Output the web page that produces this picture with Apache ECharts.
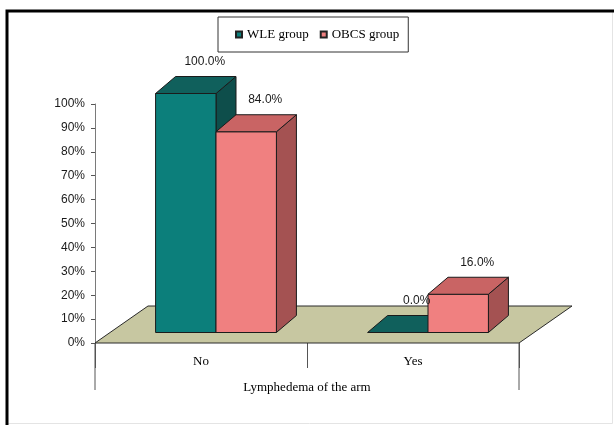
<!DOCTYPE html>
<html>
<head>
<meta charset="utf-8">
<script src="https://cdn.jsdelivr.net/npm/echarts@6/dist/echarts.min.js"></script>
<style>
  html, body { margin: 0; padding: 0; background: #ffffff; }
  #chart { width: 614px; height: 425px; }
</style>
</head>
<body>
<div id="chart"></div>
<script>
// Lymphedema of the arm, share of patients per group
const categories = ['No', 'Yes'];
const groupNames = ['WLE group', 'OBCS group'];
const wleValues = [100.0, 0.0];
const obcsValues = [84.0, 16.0];
const axisTitle = 'Lymphedema of the arm';

// pseudo-3D geometry (pixels)
const BAR_FRACTION = 0.285;          // bar width as share of a category band
const FRONT_SHIFT = [15, -10.5];     // bars stand a little back on the floor
const BAR_DEPTH = [20, -17];         // depth of each box
const FLOOR_DEPTH = [53, -37];       // depth of the floor plate
const DROP_LINE = 47;                // long boundary lines below the floor

const faces = [
  { front: '#0c7f7b', top: '#10605c', side: '#0e4e4b', legend: '#0c7f7b' },
  { front: '#f08080', top: '#c96464', side: '#a45252', legend: '#f08080' }
];
const EDGE = { stroke: '#1b1b1b', lineWidth: 1 };

function boxRenderer(slot) {
  const f = faces[slot];
  return function (params, api) {
    const cat = api.value(0);
    const v = api.value(1);
    const base = api.coord([cat, 0]);
    const topY = api.coord([cat, v])[1];
    const band = api.size([1, 0])[0];
    const w = band * BAR_FRACTION;
    const x0 = base[0] + FRONT_SHIFT[0] - (slot === 0 ? w : 0);
    const x1 = x0 + w;
    const yb = base[1] + FRONT_SHIFT[1];
    const yt = topY + FRONT_SHIFT[1];
    const dx = BAR_DEPTH[0], dy = BAR_DEPTH[1];
    const children = [];
    if (yb - yt > 0.5) {
      children.push({
        type: 'polygon',
        shape: { points: [[x1, yb], [x1 + dx, yb + dy], [x1 + dx, yt + dy], [x1, yt]] },
        style: Object.assign({ fill: f.side }, EDGE)
      });
      children.push({
        type: 'rect',
        shape: { x: x0, y: yt, width: w, height: yb - yt },
        style: Object.assign({ fill: f.front }, EDGE)
      });
    }
    children.push({
      type: 'polygon',
      shape: { points: [[x0, yt], [x1, yt], [x1 + dx, yt + dy], [x0 + dx, yt + dy]] },
      style: Object.assign({ fill: f.top }, EDGE)
    });
    children.push({
      type: 'text',
      z2: 100,
      style: {
        text: v.toFixed(1) + '%',
        x: (x0 + x1) / 2 + 19,
        y: yt + dy - 15,
        align: 'center',
        verticalAlign: 'middle',
        font: '12px "Liberation Sans", Arial, sans-serif',
        fill: '#1a1a1a'
      }
    });
    return { type: 'group', children: children };
  };
}

function floorRenderer(params, api) {
  const cs = params.coordSys;
  const yf = api.coord([0, 0])[1];
  const xl = cs.x, xr = cs.x + cs.width;
  return {
    type: 'group',
    children: [
      {
        type: 'polygon',
        shape: { points: [[xl, yf], [xr, yf], [xr + FLOOR_DEPTH[0], yf + FLOOR_DEPTH[1]], [xl + FLOOR_DEPTH[0], yf + FLOOR_DEPTH[1]]] },
        style: { fill: '#c7c7a1', stroke: '#2a2a2a', lineWidth: 1 }
      },
      { type: 'line', shape: { x1: xl, y1: yf, x2: xl, y2: yf + DROP_LINE }, style: { stroke: '#555555', lineWidth: 1 } },
      { type: 'line', shape: { x1: xr, y1: yf, x2: xr, y2: yf + DROP_LINE }, style: { stroke: '#555555', lineWidth: 1 } }
    ]
  };
}

const chart = echarts.init(document.getElementById('chart'), null, { renderer: 'canvas' });

chart.setOption({
  animation: false,
  backgroundColor: '#ffffff',
  graphic: [
    { type: 'rect', shape: { x: 6.5, y: 10.5, width: 606, height: 413 }, style: { fill: null, stroke: '#e4e4e4', lineWidth: 1 } },
    { type: 'polyline', shape: { points: [[7, 425], [7, 11], [614, 11]] }, style: { fill: null, stroke: '#000000', lineWidth: 3 } }
  ],
  legend: {
    data: groupNames,
    left: 218,
    top: 17,
    icon: 'rect',
    itemWidth: 6,
    itemHeight: 6,
    itemGap: 11,
    padding: [11, 9, 11, 17],
    borderColor: '#333333',
    borderWidth: 1,
    textStyle: { fontFamily: '"Liberation Serif", "Times New Roman", serif', fontSize: 13, color: '#000000' }
  },
  grid: { left: 95, right: 95, top: 104, bottom: 82 },
  xAxis: {
    type: 'category',
    data: categories,
    boundaryGap: true,
    axisLine: { show: false },
    axisTick: { show: true, length: 25, lineStyle: { color: '#555555' } },
    axisLabel: { margin: 12, fontFamily: '"Liberation Serif", "Times New Roman", serif', fontSize: 13, color: '#000000' },
    name: axisTitle,
    nameLocation: 'middle',
    nameGap: 38,
    nameTextStyle: { fontFamily: '"Liberation Serif", "Times New Roman", serif', fontSize: 13, color: '#000000' }
  },
  yAxis: {
    type: 'value',
    min: 0,
    max: 100,
    interval: 10,
    axisLine: { show: true, lineStyle: { color: '#7a7a7a' } },
    axisTick: { show: true, length: 4, lineStyle: { color: '#555555' } },
    splitLine: { show: false },
    axisLabel: { formatter: '{value}%', margin: 10, fontFamily: '"Liberation Sans", Arial, sans-serif', fontSize: 12, color: '#1a1a1a' }
  },
  series: [
    {
      name: 'floor',
      type: 'custom',
      z: 1,
      silent: true,
      renderItem: floorRenderer,
      data: [[0, 0]]
    },
    {
      name: groupNames[0],
      type: 'custom',
      z: 2,
      itemStyle: { color: faces[0].legend, borderColor: '#222222', borderWidth: 1 },
      renderItem: boxRenderer(0),
      data: wleValues.map((v, i) => [i, v])
    },
    {
      name: groupNames[1],
      type: 'custom',
      z: 2,
      itemStyle: { color: faces[1].legend, borderColor: '#222222', borderWidth: 1 },
      renderItem: boxRenderer(1),
      data: obcsValues.map((v, i) => [i, v])
    }
  ]
});
</script>
</body>
</html>
